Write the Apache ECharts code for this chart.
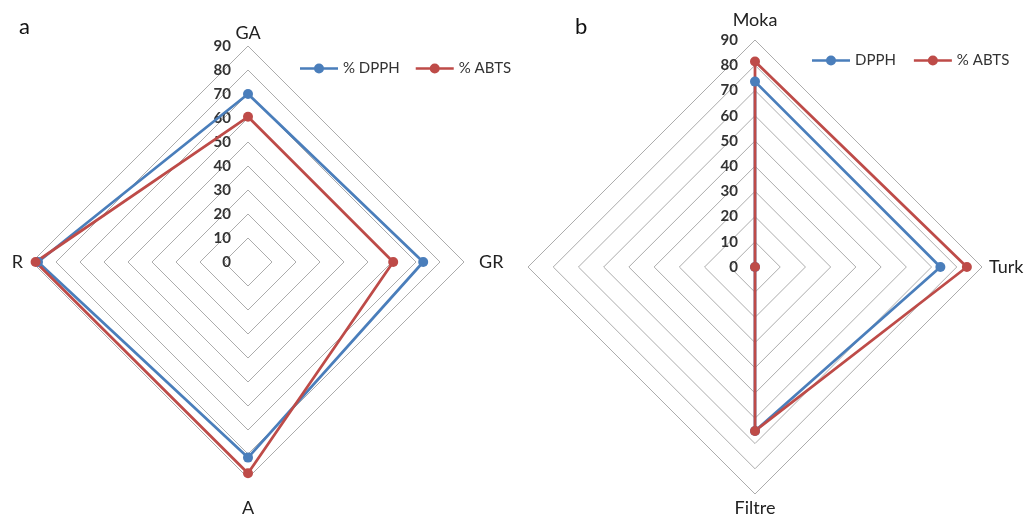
<!DOCTYPE html>
<html>
<head>
<meta charset="utf-8">
<script src="https://cdn.jsdelivr.net/npm/echarts@6/dist/echarts.min.js"></script>
<style>
html,body{margin:0;padding:0;background:#fff;}
#chart{width:1026px;height:516px;}
</style>
</head>
<body>
<div id="chart"></div>
<script>
// ---- Data ----
// Panel a (indicators listed counterclockwise from top: GA, R, A, GR)
var indicatorsA = ['GA', 'R', 'A', 'GR'];
var dpphA = [70, 87.5, 81.5, 73];
var abtsA = [60.5, 88.5, 88, 60.5];
var seriesNamesA = ['% DPPH', '% ABTS'];

// Panel b (top, left, bottom, right: Moka, (unnamed), Filtre, Turk)
var indicatorsB = ['Moka', '', 'Filtre', 'Turk'];
var dpphB = [73.5, 0, 65, 73.5];
var abtsB = [81.5, 0, 65, 84];
var seriesNamesB = ['DPPH', '% ABTS'];

var axisMax = 90;
var axisSplits = 9;

// ---- Styles ----
var BLUE = '#4a7ebb';
var RED = '#be4b48';
var FONT = 'Lato, "Open Sans", sans-serif';
var legendIcon = 'path://M0,3.8L38,3.8L38,6.2L0,6.2Z M14,5A5,5,0,1,1,24,5A5,5,0,1,1,14,5Z';

function makeIndicators(names, labelIndex) {
  return names.map(function (n, i) {
    var o = { name: n, min: 0, max: axisMax };
    if (i === labelIndex) o.axisLabel = { show: true };
    return o;
  });
}

function radarBase(center, radius, names, rich) {
  return {
    center: center,
    radius: radius,
    startAngle: 90,
    shape: 'polygon',
    splitNumber: axisSplits,
    indicator: makeIndicators(names, 0),
    axisLine: { show: false },
    axisTick: { show: false },
    splitArea: { show: false },
    splitLine: { lineStyle: { color: '#acacac', width: 1 } },
    axisLabel: {
      show: false,
      margin: 17,
      color: '#333',
      fontFamily: FONT,
      fontWeight: 'bold',
      fontSize: 15
    },
    axisNameGap: 4,
    axisName: {
      color: '#222',
      fontFamily: FONT,
      fontSize: 18,
      formatter: function (n) { return n ? '{' + n + '|' + n + '}' : ''; },
      rich: rich
    }
  };
}

function richStyle(pad) {
  return { color: '#222', fontFamily: FONT, fontSize: 18, padding: pad };
}

var option = {
  backgroundColor: '#fff',
  animation: false,
  title: [
    { text: 'a', left: 14, top: 11, textStyle: { fontFamily: FONT, fontSize: 22, fontWeight: 'normal', color: '#111' } },
    { text: 'b', left: 570, top: 11, textStyle: { fontFamily: FONT, fontSize: 22, fontWeight: 'normal', color: '#111' } }
  ],
  legend: [
    {
      data: seriesNamesA, left: 300, top: 61, padding: 0, itemGap: 16,
      itemWidth: 38, itemHeight: 10, icon: legendIcon,
      textStyle: { fontFamily: FONT, fontSize: 15, color: '#333' }
    },
    {
      data: seriesNamesB, left: 812, top: 53, padding: 0, itemGap: 18,
      itemWidth: 38, itemHeight: 10, icon: legendIcon,
      textStyle: { fontFamily: FONT, fontSize: 15, color: '#333' }
    }
  ],
  radar: [
    radarBase([248, 262], 216, indicatorsA, {
      GA: richStyle([0, 0, 0, 0]),
      R: richStyle([0, 5, 0, 0]),
      A: richStyle([17, 0, 0, 0]),
      GR: richStyle([0, 0, 0, 11])
    }),
    radarBase([755, 267], 227, indicatorsB, {
      Moka: richStyle([0, 0, 7, 0]),
      Turk: richStyle([0, 0, 0, 3]),
      Filtre: richStyle([1, 0, 0, 0])
    })
  ],
  series: [
    {
      type: 'radar', radarIndex: 0, symbol: 'circle', symbolSize: 10,
      data: [
        { name: seriesNamesA[0], value: dpphA, itemStyle: { color: BLUE }, lineStyle: { color: BLUE, width: 2.75 } },
        { name: seriesNamesA[1], value: abtsA, itemStyle: { color: RED }, lineStyle: { color: RED, width: 2.75 } }
      ]
    },
    {
      type: 'radar', radarIndex: 1, symbol: 'circle', symbolSize: 10,
      data: [
        { name: seriesNamesB[0], value: dpphB, itemStyle: { color: BLUE }, lineStyle: { color: BLUE, width: 2.75 } },
        { name: seriesNamesB[1], value: abtsB, itemStyle: { color: RED }, lineStyle: { color: RED, width: 2.75 } }
      ]
    }
  ]
};

var chart = echarts.init(document.getElementById('chart'), null, { renderer: 'canvas' });
chart.setOption(option);
</script>
</body>
</html>
